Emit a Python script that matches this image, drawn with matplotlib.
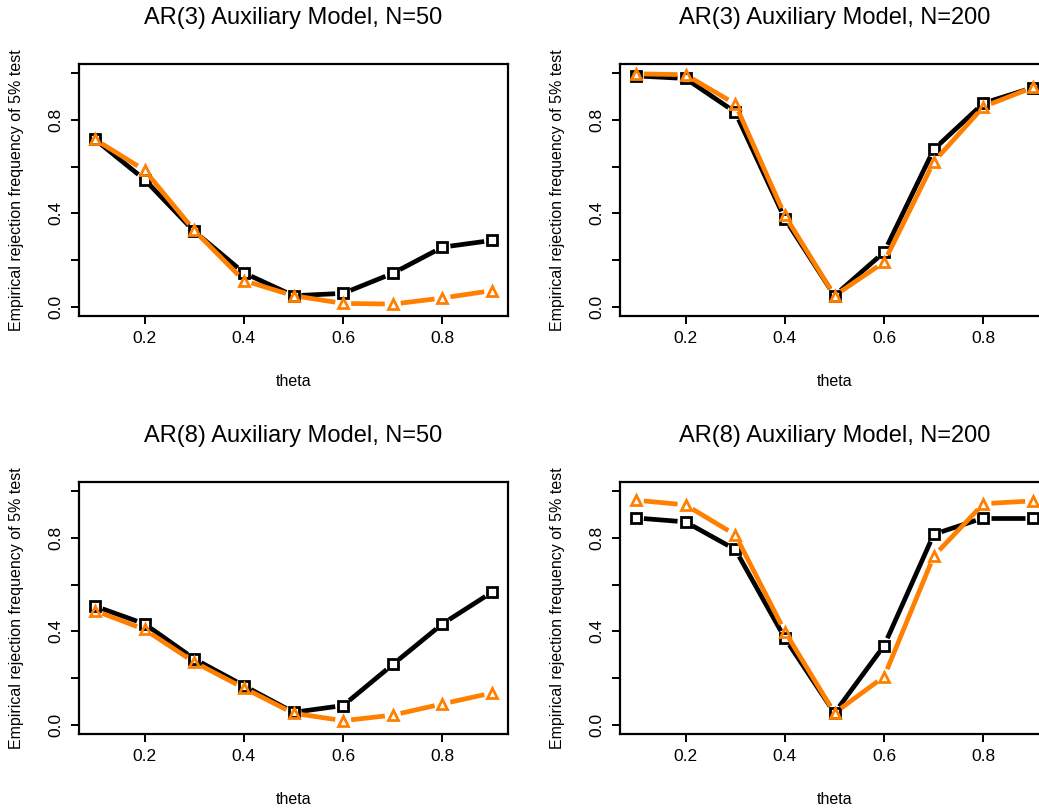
import numpy as np
import matplotlib
matplotlib.use("Agg")
import matplotlib.pyplot as plt

plt.rcParams['font.family'] = ['Liberation Sans', 'DejaVu Sans']

# Data
theta = [0.1, 0.2, 0.3, 0.4, 0.5, 0.6, 0.7, 0.8, 0.9]

titles = ["AR(3) Auxiliary Model, N=50", "AR(3) Auxiliary Model, N=200",
          "AR(8) Auxiliary Model, N=50", "AR(8) Auxiliary Model, N=200"]

black_ar3_n50 = [0.717, 0.545, 0.323, 0.145, 0.047, 0.057, 0.143, 0.255, 0.284]
orange_ar3_n50 = [0.717, 0.585, 0.327, 0.112, 0.047, 0.014, 0.011, 0.037, 0.069]

black_ar3_n200 = [0.989, 0.978, 0.834, 0.377, 0.047, 0.234, 0.674, 0.872, 0.939]
orange_ar3_n200 = [0.998, 0.994, 0.869, 0.391, 0.047, 0.191, 0.621, 0.857, 0.940]

black_ar8_n50 = [0.508, 0.432, 0.282, 0.167, 0.053, 0.082, 0.258, 0.432, 0.568]
orange_ar8_n50 = [0.489, 0.408, 0.268, 0.157, 0.049, 0.017, 0.041, 0.089, 0.136]

black_ar8_n200 = [0.886, 0.869, 0.751, 0.371, 0.050, 0.339, 0.816, 0.886, 0.886]
orange_ar8_n200 = [0.962, 0.942, 0.814, 0.399, 0.050, 0.206, 0.723, 0.947, 0.959]

blacks = [black_ar3_n50, black_ar3_n200, black_ar8_n50, black_ar8_n200]
oranges = [orange_ar3_n50, orange_ar3_n200, orange_ar8_n50, orange_ar8_n200]

ORANGE = "#FF7F00"
W, H = 1039, 808


def gapped_line(ax, x, y, color, gap=8):
    # R type="b": segments stop short of the points
    pts = ax.transData.transform(np.column_stack([x, y]))
    inv = ax.transData.inverted()
    for p0, p1 in zip(pts[:-1], pts[1:]):
        d = p1 - p0
        n = np.hypot(*d)
        if n <= 2 * gap:
            continue
        u = d / n
        seg = inv.transform(np.array([p0 + u * gap, p1 - u * gap]))
        ax.plot(seg[:, 0], seg[:, 1], color=color, lw=3.4,
                solid_capstyle='butt')


fig = plt.figure(figsize=(W / 100, H / 100), dpi=100)

# box positions in pixels: left, top
boxes = [(79, 64), (620, 64), (79, 482), (620, 482)]
bw, bh = 429, 252

for i, (lx, ty) in enumerate(boxes):
    ax = fig.add_axes([lx / W, (H - ty - bh) / H, bw / W, bh / H])
    ax.set_xlim(0.1 - 0.032, 0.9 + 0.032)
    ax.set_ylim(-0.04, 1.04)

    gapped_line(ax, theta, blacks[i], "black")
    ax.plot(theta, blacks[i], ls='none', marker='s', ms=7, mfc='none',
            mec='black', mew=2)
    gapped_line(ax, theta, oranges[i], ORANGE)
    ax.plot(theta, oranges[i], ls='none', marker='^', ms=7.5, mfc='none',
            mec=ORANGE, mew=2)

    ax.set_xticks([0.2, 0.4, 0.6, 0.8])
    ax.set_xticklabels(["0.2", "0.4", "0.6", "0.8"])
    yt = [0.0, 0.2, 0.4, 0.6, 0.8, 1.0]
    ax.set_yticks(yt)
    ax.set_yticklabels(["0.0", "", "0.4", "", "0.8", ""], rotation=90,
                       va='center')
    ax.tick_params(direction='out', length=6, width=1.4, labelsize=12.5,
                   pad=5)
    for s in ax.spines.values():
        s.set_linewidth(1.6)

    ax.set_title(titles[i], fontsize=17, pad=28.5)
    ax.set_xlabel("theta", fontsize=11.5)
    ax.xaxis.set_label_coords(0.5, -0.23)
    ax.set_ylabel("Empirical rejection frequency of 5% test", fontsize=11.5)
    ax.yaxis.set_label_coords(-0.128, 0.5)

fig.savefig("out.png", dpi=100)
